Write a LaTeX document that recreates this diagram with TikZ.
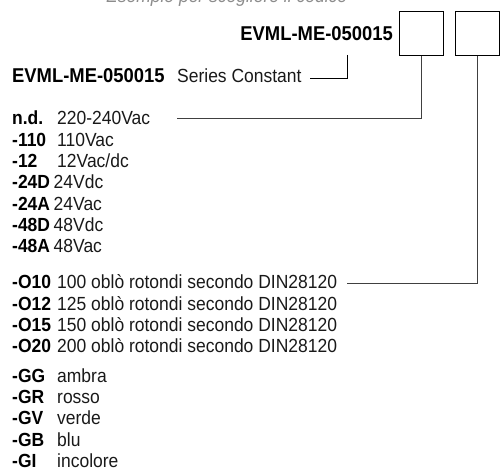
\documentclass[tikz,border=0pt]{standalone}
\usepackage{fontspec}
\setmainfont{Liberation Sans}[FakeStretch=0.92]
\begin{document}
\begin{tikzpicture}[x=1pt,y=-1pt,
  txt/.style={anchor=base west,inner sep=0pt,text=black!90,font=\fontsize{19}{21}\selectfont},
  code/.style={txt,text=black,font=\fontsize{19}{21}\selectfont\bfseries},
  bigcode/.style={inner sep=0pt,font=\fontsize{20}{22}\selectfont\bfseries},
  slot/.style={draw,line width=0.9pt,minimum size=44pt,inner sep=0pt,anchor=north west},
  conn/.style={draw=black!75,line width=0.9pt}]
\useasboundingbox (0,0) rectangle (501,470);
\begin{scope}
\clip (0,0) rectangle (501,470);
\node[txt,text=black!45,font=\fontsize{19}{21}\selectfont\itshape] (hdr) at (106,3) {Esempio per scegliere il codice};
\end{scope}
% title and slots
\node[bigcode,anchor=base east] (title) at (393,41) {EVML-ME-050015};
\node[slot] (b1) at (399,11) {};
\node[slot] (b2) at (455,11) {};
% series line
\node[bigcode,anchor=base west] (sercode) at (12,83) {EVML-ME-050015};
\node[txt] (serdesc) at (177,83) {Series Constant};
\coordinate (aStart) at (347,55);
\coordinate (aEnd) at (310,78);
\draw[line width=0.9pt] (aStart) |- (aEnd);
% voltage group
\node[code] (c1) at (12,125) {n.d.};     \node[txt] (d1) at (57,125) {220-240Vac};
\node[code] (c2) at (12,146.3) {-110};   \node[txt] (d2) at (57,146.3) {110Vac};
\node[code] (c3) at (12,167.6) {-12};    \node[txt] (d3) at (57,167.6) {12Vac/dc};
\node[code] (c4) at (12,188.9) {-24D};   \node[txt] (d4) at (53.5,188.9) {24Vdc};
\node[code] (c5) at (12,210.2) {-24A};   \node[txt] (d5) at (53.5,210.2) {24Vac};
\node[code] (c6) at (12,231.5) {-48D};   \node[txt] (d6) at (53.5,231.5) {48Vdc};
\node[code] (c7) at (12,252.8) {-48A};   \node[txt] (d7) at (53.5,252.8) {48Vac};
\coordinate (bEnd) at (177,118);
\draw[conn] (b1.south) |- (bEnd);
% window group
\node[code] (o1) at (12,289) {-O10};   \node[txt] (p1) at (57,289) {100 oblò rotondi secondo DIN28120};
\node[code] (o2) at (12,310.3) {-O12}; \node[txt] (p2) at (57,310.3) {125 oblò rotondi secondo DIN28120};
\node[code] (o3) at (12,331.6) {-O15}; \node[txt] (p3) at (57,331.6) {150 oblò rotondi secondo DIN28120};
\node[code] (o4) at (12,352.9) {-O20}; \node[txt] (p4) at (57,352.9) {200 oblò rotondi secondo DIN28120};
\coordinate (cEnd) at (347,283);
\draw[conn] (b2.south) |- (cEnd);
% colour group
\node[code] (g1) at (12,382.2) {-GG}; \node[txt] (h1) at (57,382.2) {ambra};
\node[code] (g2) at (12,403.5) {-GR}; \node[txt] (h2) at (57,403.5) {rosso};
\node[code] (g3) at (12,424.8) {-GV}; \node[txt] (h3) at (57,424.8) {verde};
\node[code] (g4) at (12,446.1) {-GB}; \node[txt] (h4) at (57,446.1) {blu};
\node[code] (g5) at (12,467.4) {-GI}; \node[txt] (h5) at (57,467.4) {incolore};
\end{tikzpicture}
\end{document}
